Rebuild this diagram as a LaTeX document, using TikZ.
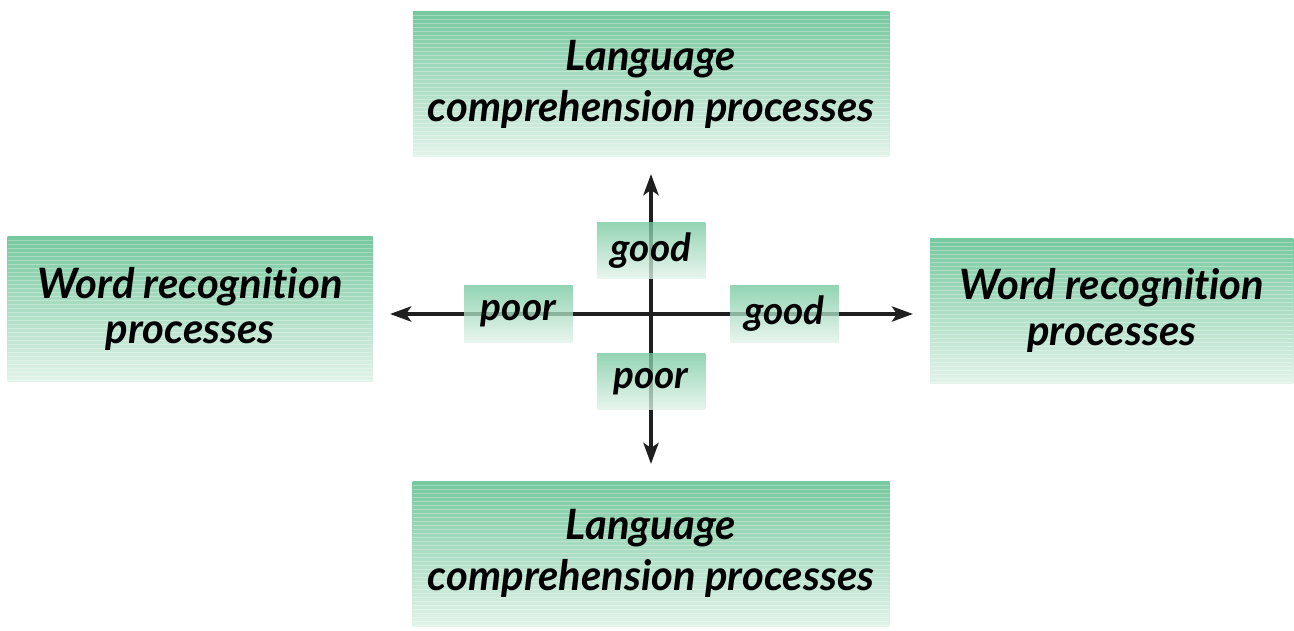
\documentclass[tikz,border=0pt]{standalone}
\usepackage{fontspec}
\setmainfont{Lato}[Ligatures={NoCommon,NoRare}]
\usetikzlibrary{positioning,arrows.meta}
\definecolor{boxtop}{RGB}{118,200,158}
\definecolor{boxbot}{RGB}{226,243,234}
\tikzset{>={Stealth[length=0.42cm,width=0.3cm,inset=0.1cm]}}
\newcommand*{\lbfont}{\fontsize{23.8}{26}\selectfont\bfseries\itshape}
\newcommand*{\tagfont}{\fontsize{22}{26}\selectfont\bfseries\itshape}

\begin{document}
\begin{tikzpicture}[
  stripes/.style={path picture={
    \foreach \k in {1,...,36}
      \draw[white,opacity=.3,line width=.4pt]
        ([yshift={-\k*0.08cm}]path picture bounding box.north west) --
        ([yshift={-\k*0.08cm}]path picture bounding box.north east);
  }},
  bigbox/.style={top color=boxtop,bottom color=boxbot,stripes,font=\lbfont,
    minimum height=2.9cm,align=center,inner sep=0pt},
  tag/.style={top color=boxtop,bottom color=boxbot,fill opacity=.78,font=\tagfont,
    text opacity=1,minimum width=2.17cm,minimum height=1.13cm,inner sep=0pt},
  axis/.style={line width=2.3pt,->,shorten >=0.34cm,color=black!88}
]
\useasboundingbox (0,0) rectangle (25.88,12.6);
\coordinate (O) at (13.02,6.32);
\node[bigbox,minimum width=9.53cm,above=3.14cm of O] (langup)
  {Language\\[3pt]comprehension processes};
\node[bigbox,minimum width=9.54cm,below=3.34cm of O] (langdown)
  {Language\\[3pt]comprehension processes};
\node[bigbox,minimum width=7.3cm,left=5.56cm of O,yshift=0.1cm] (wordleft)
  {Word recognition\\processes};
\node[bigbox,minimum width=7.26cm,right=5.58cm of O,yshift=0.07cm] (wordright)
  {Word recognition\\processes};
\draw[axis] (O) -- (langup.south);
\draw[axis] (O) -- (langdown.north);
\draw[axis] (O) -- (O -| wordleft.east);
\draw[axis] (O) -- (O -| wordright.west);
\node[tag,above=0.7cm of O] (goodup) {good};
\node[tag,below=0.78cm of O] (poordown) {poor};
\node[tag,left=1.56cm of O] (poorleft) {poor};
\node[tag,right=1.58cm of O] (goodright) {good};
\end{tikzpicture}
\end{document}
